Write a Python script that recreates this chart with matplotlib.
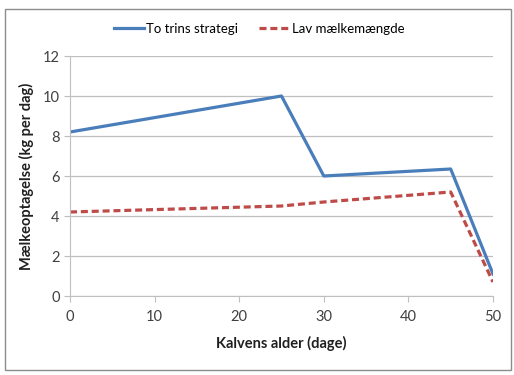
import numpy as np
import matplotlib.pyplot as plt
from matplotlib.patches import Rectangle

plt.rcParams['font.family'] = ['Lato', 'DejaVu Sans']

days = [0, 25, 30, 45, 50]
to_trins = [8.2, 10.0, 6.0, 6.35, 1.1]
lav_days = [0, 25, 30, 45, 50]
lav_maelk = [4.2, 4.5, 4.7, 5.2, 0.7]

fig = plt.figure(figsize=(5.14, 3.75), dpi=100)
fig.patches.append(Rectangle((5/514, 1-370/375), 506/514, 361/375, transform=fig.transFigure,
                             fill=False, edgecolor='#8c8c8c', linewidth=1.0))
ax = fig.add_axes([70/514, 1-296/375, 423/514, 240/375])

ax.plot(days, to_trins, color='#4a7ebb', linewidth=2.3, label='To trins strategi')
ax.plot(lav_days, lav_maelk, color='#be4b48', linewidth=2.3, linestyle=(0, (2.2, 1.2)),
        label='Lav mælkemængde')

ax.set_xlim(0, 50)
ax.set_ylim(0, 12)
ax.set_xticks(range(0, 51, 10))
ax.set_yticks(range(0, 13, 2))
ax.yaxis.grid(True, color='#bfbfbf', linewidth=0.9)
ax.set_axisbelow(True)
for s in ['top', 'right']:
    ax.spines[s].set_visible(False)
ax.spines['left'].set_color('#bfbfbf')
ax.spines['bottom'].set_color('#bfbfbf')
ax.tick_params(axis='both', colors='#bfbfbf', labelcolor='#404040', labelsize=10.5, length=4)
ax.tick_params(axis='x', pad=6)

ax.set_xlabel('Kalvens alder (dage)', fontsize=10.5, fontweight='bold', color='#202020', labelpad=9)
ax.set_ylabel('Mælkeoptagelse (kg per dag)', fontsize=10.5, fontweight='bold', color='#202020', labelpad=6)

fig.legend(loc='center', bbox_to_anchor=(259/514, 1-29/375), ncol=2, frameon=False,
           fontsize=9.5, handlelength=2.3, handletextpad=0.15, columnspacing=1.6)

fig.savefig('out.png', dpi=100)
